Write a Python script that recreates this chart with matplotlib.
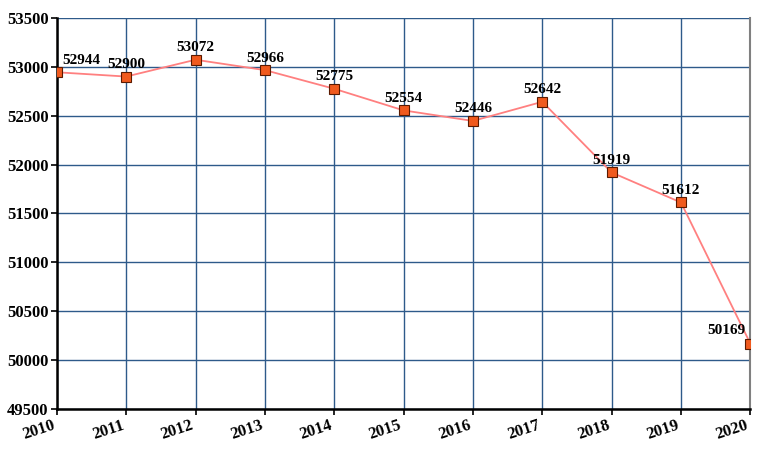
import matplotlib.pyplot as plt

years = [2010, 2011, 2012, 2013, 2014, 2015, 2016, 2017, 2018, 2019, 2020]
population = [52944, 52900, 53072, 52966, 52775, 52554, 52446, 52642, 51919, 51612, 50169]

plt.rcParams['font.family'] = ['Liberation Serif', 'DejaVu Serif']

fig = plt.figure(figsize=(7.68, 4.59), dpi=100)
ax = fig.add_axes([0.074, 0.109, 0.903, 0.852])

ax.plot(years, population, color='#ff8080', lw=1.3, zorder=3,
        marker='s', markersize=6.5, markerfacecolor='#f05a1e',
        markeredgecolor='#5a1a00', markeredgewidth=0.8)

for x, y in zip(years, population):
    if x == 2010:
        ax.annotate(str(y), (x, y), xytext=(4, 4), textcoords='offset points',
                    ha='left', va='bottom', fontsize=11, fontweight='bold')
    elif x == 2020:
        ax.annotate(str(y), (x, y), xytext=(-17, 5), textcoords='offset points',
                    ha='center', va='bottom', fontsize=11, fontweight='bold')
    else:
        ax.annotate(str(y), (x, y), xytext=(0, 4), textcoords='offset points',
                    ha='center', va='bottom', fontsize=11, fontweight='bold')

ax.set_xlim(2010, 2020)
ax.set_ylim(49500, 53500)
ax.set_xticks(years)
ax.set_yticks(range(49500, 53501, 500))
ax.grid(True, color='#2e5a8a', lw=1.0)
ax.set_axisbelow(True)

for lab in ax.get_xticklabels():
    lab.set_rotation(18)
    lab.set_ha('right')
    lab.set_fontweight('bold')
    lab.set_fontsize(12)
for lab in ax.get_yticklabels():
    lab.set_fontsize(12)
    lab.set_fontweight('bold')

ax.spines['left'].set_linewidth(1.8)
ax.spines['bottom'].set_linewidth(1.8)
ax.spines['top'].set_visible(False)
ax.spines['right'].set_color('#808080')
ax.spines['right'].set_linewidth(1.5)
ax.tick_params(length=4, width=1.2, pad=2)

fig.savefig('out.png', dpi=100)
